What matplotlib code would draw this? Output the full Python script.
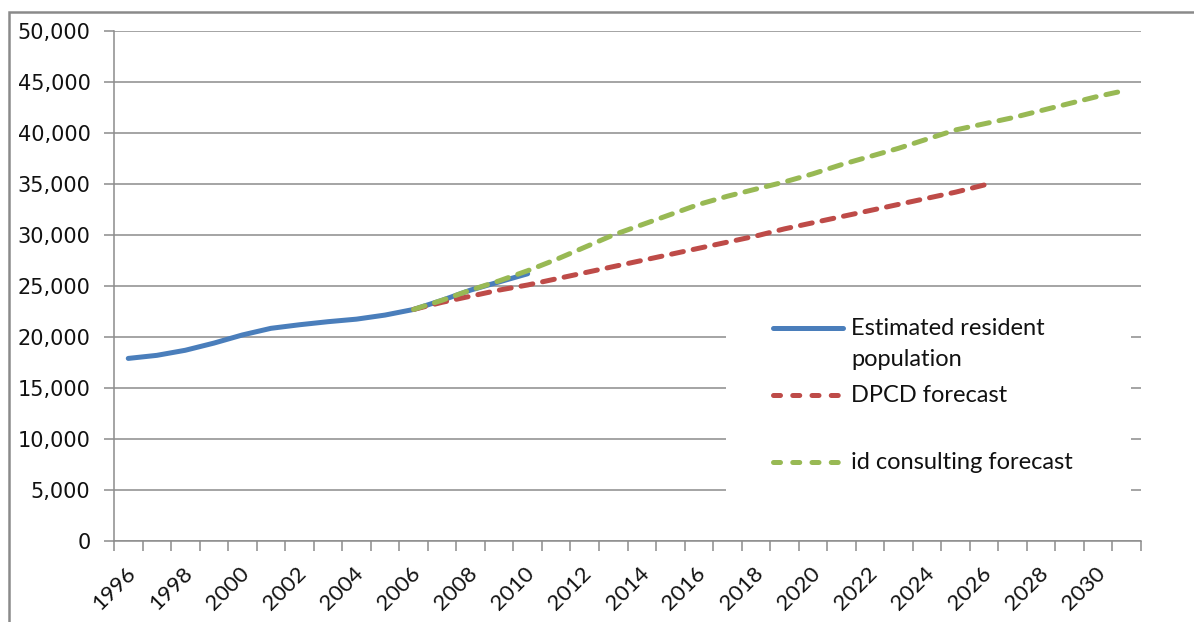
import numpy as np
import matplotlib
matplotlib.use("Agg")
import matplotlib.pyplot as plt
from matplotlib.patches import Rectangle
from matplotlib.transforms import ScaledTranslation
from matplotlib.ticker import FuncFormatter, FixedLocator

# Population series
first_year, last_year = 1996, 2031
erp_years = list(range(1996, 2011))
erp = [17900, 18200, 18700, 19400, 20200, 20850, 21200, 21500, 21750, 22150,
       22700, 23600, 24600, 25400, 26200]
dpcd_years = list(range(2006, 2027))
dpcd = [22700, 23400, 24000, 24600, 25100, 25700, 26300, 26900, 27500, 28100,
        28700, 29300, 29900, 30600, 31200, 31800, 32400, 33000, 33600, 34200,
        34900]
idc_years = list(range(2006, 2032))
idc = [22700, 23600, 24600, 25500, 26500, 27600, 28800, 30000, 31000, 32000,
       33000, 33800, 34500, 35200, 36000, 36900, 37700, 38500, 39400, 40300,
       40900, 41500, 42200, 42900, 43600, 44200]
tick_years = list(range(1996, 2031, 2))

labels = ["Estimated resident\npopulation", "DPCD forecast", "id consulting forecast"]
colors = ["#4a7ebb", "#be4b48", "#98b954"]
grid_col = "#8c8c8c"
text_col = "#111111"


def pos(years):
    # category centres on the x axis
    return np.array(years) - first_year + 0.5


fig = plt.figure(figsize=(11.94, 6.22), dpi=100)
ax = fig.add_axes([114 / 1194, 81 / 622, 1027 / 1194, 510 / 622])

# outer chart border (runs off the right and bottom edges)
fig.patches.append(Rectangle((9 / 1194, -0.1), 1.2, (610 / 622) + 0.1,
                             transform=fig.transFigure, fill=False,
                             edgecolor="#8a8a8a", linewidth=1.8))

lw = 3.6
dash = (2.4, 2.0)
ax.plot(pos(erp_years), erp, color=colors[0], lw=lw, solid_capstyle="round", zorder=3)
ax.plot(pos(dpcd_years), dpcd, color=colors[1], lw=lw, dashes=dash,
        dash_capstyle="round", zorder=4)
ax.plot(pos(idc_years), idc, color=colors[2], lw=lw, dashes=dash,
        dash_capstyle="round", zorder=5)

ax.set_xlim(0, last_year - first_year + 1)
ax.set_ylim(0, 50000)
ax.set_yticks(np.arange(0, 50001, 5000))
ax.yaxis.set_major_formatter(FuncFormatter(lambda v, p: f"{int(v):,}"))
ax.grid(axis="y", color=grid_col, lw=1.1)
ax.set_axisbelow(True)

for s in ["top", "right"]:
    ax.spines[s].set_visible(False)
for s in ["left", "bottom"]:
    ax.spines[s].set_color(grid_col)
    ax.spines[s].set_linewidth(1.1)

ax.tick_params(axis="y", length=7, width=1.1, color=grid_col, pad=10,
               labelsize=15, labelcolor=text_col)
for t in ax.get_yticklabels():
    t.set_fontfamily("DejaVu Sans")

# tick marks at category boundaries, labels at every second category
ax.xaxis.set_minor_locator(FixedLocator(np.arange(0, last_year - first_year + 2)))
ax.set_xticks(pos(tick_years))
ax.set_xticklabels([str(y) for y in tick_years], rotation=45, ha="right", va="top",
                   fontfamily="Lato", fontsize=16, color=text_col)
ax.tick_params(axis="x", which="major", length=0, pad=16)
ax.tick_params(axis="x", which="minor", length=7, width=1.1, color=grid_col)
shift = ScaledTranslation(11 / 100, 0, fig.dpi_scale_trans)
for t in ax.get_xticklabels():
    t.set_transform(t.get_transform() + shift)

# legend box drawn over the gridlines
ax.add_patch(Rectangle((0.596, 0.086), 0.394, 0.39, transform=ax.transAxes,
                       facecolor="white", edgecolor="none", zorder=6))
rows = [0.4176, 0.2863, 0.155]
base_off = -7 / 510
line_step = -31 / 510
for lab, col, y, ls in zip(labels, colors, rows, ["solid", "dash", "dash"]):
    if ls == "solid":
        ax.plot([0.642, 0.71], [y, y], transform=ax.transAxes, color=col, lw=lw,
                solid_capstyle="round", zorder=7)
    else:
        ax.plot([0.642, 0.71], [y, y], transform=ax.transAxes, color=col, lw=lw,
                dashes=(1.4, 2.45), dash_capstyle="round", zorder=7)
    for k, line in enumerate(lab.split("\n")):
        ax.text(0.7176, y + base_off + k * line_step, line, transform=ax.transAxes,
                va="baseline", ha="left", fontfamily="Lato", fontsize=17,
                color=text_col, zorder=8)

fig.savefig("out.png", dpi=100)
